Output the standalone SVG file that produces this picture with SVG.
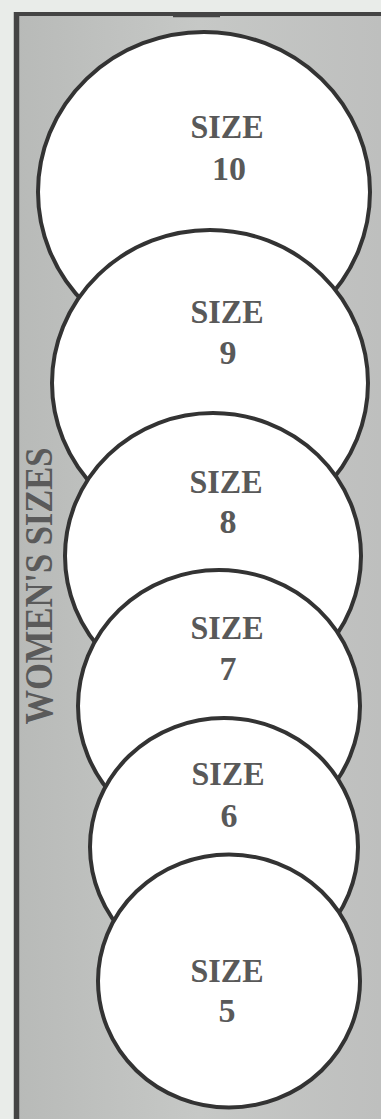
<svg xmlns="http://www.w3.org/2000/svg" width="381" height="1119" viewBox="0 0 381 1119">
  <defs>
    <linearGradient id="bg" x1="0" y1="0" x2="1" y2="0">
      <stop offset="0" stop-color="#b8bab8"/>
      <stop offset="0.5" stop-color="#c6c8c6"/>
      <stop offset="1" stop-color="#bebfbe"/>
    </linearGradient>
  </defs>
  <style>
    .disc { fill: #ffffff; stroke: #333333; stroke-width: 4; }
    .lbl { font-family: "Liberation Serif", "Times New Roman", serif; font-weight: bold; font-size: 34px; fill: #595959; text-anchor: middle; }
    .side { font-family: "Liberation Serif", "Times New Roman", serif; font-weight: bold; font-size: 40px; fill: #5a5a5a; text-anchor: middle; }
    .frame { stroke: #444444; fill: none; }
  </style>
  <rect x="0" y="0" width="381" height="1119" fill="#e9ece9"/>
  <rect x="16" y="14" width="365" height="1105" fill="url(#bg)"/>
  <g id="frame">
    <line class="frame" x1="16.5" y1="12" x2="16.5" y2="1119" stroke-width="5.5"/>
    <line class="frame" x1="14" y1="14" x2="381" y2="14" stroke-width="4"/>
    <line class="frame" x1="173" y1="16" x2="220" y2="16" stroke-width="2.5"/>
  </g>
  <g id="side-label">
    <text class="side" transform="translate(52,586) rotate(-90)" textLength="277" lengthAdjust="spacingAndGlyphs">WOMEN'S SIZES</text>
  </g>
  <g id="size10">
    <ellipse class="disc" cx="204" cy="192" rx="166" ry="160"/>
    <text class="lbl" x="227" y="138" textLength="73" lengthAdjust="spacingAndGlyphs">SIZE</text>
    <text class="lbl" x="229" y="180">10</text>
  </g>
  <g id="size9">
    <ellipse class="disc" cx="210" cy="383" rx="158" ry="153"/>
    <text class="lbl" x="227" y="323" textLength="73" lengthAdjust="spacingAndGlyphs">SIZE</text>
    <text class="lbl" x="228" y="364">9</text>
  </g>
  <g id="size8">
    <ellipse class="disc" cx="213" cy="556" rx="148" ry="143"/>
    <text class="lbl" x="226" y="493" textLength="73" lengthAdjust="spacingAndGlyphs">SIZE</text>
    <text class="lbl" x="228" y="533">8</text>
  </g>
  <g id="size7">
    <ellipse class="disc" cx="219" cy="706" rx="141" ry="136"/>
    <text class="lbl" x="227" y="639" textLength="73" lengthAdjust="spacingAndGlyphs">SIZE</text>
    <text class="lbl" x="228" y="680">7</text>
  </g>
  <g id="size6">
    <ellipse class="disc" cx="224" cy="847" rx="134" ry="129"/>
    <text class="lbl" x="228" y="785" textLength="73" lengthAdjust="spacingAndGlyphs">SIZE</text>
    <text class="lbl" x="229" y="827">6</text>
  </g>
  <g id="size5">
    <ellipse class="disc" cx="229" cy="981" rx="131" ry="126.5"/>
    <text class="lbl" x="227" y="982" textLength="73" lengthAdjust="spacingAndGlyphs">SIZE</text>
    <text class="lbl" x="227" y="1022">5</text>
  </g>
  <g id="connectors"/>
</svg>
